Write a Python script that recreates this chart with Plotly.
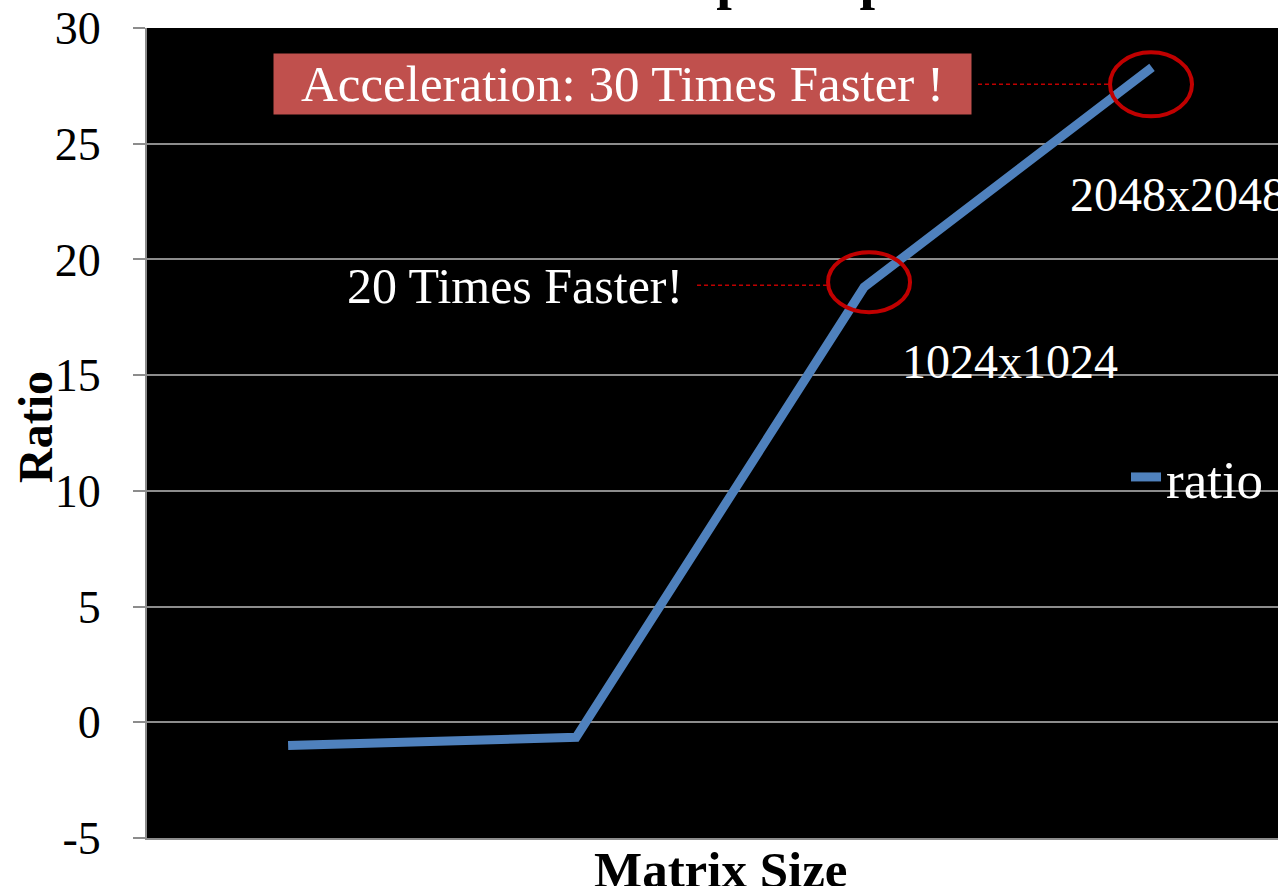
import plotly.graph_objects as go

# Speedup ratio per matrix size
sizes = ["256x256", "512x512", "1024x1024", "2048x2048"]
ratio = [-1.0, -0.65, 18.8, 28.3]
y_ticks = [-5, 0, 5, 10, 15, 20, 25, 30]
y_tick_text = ["-5", "0", "5", "10", "15", "20", "25", "30"]

SERIF = "Liberation Serif"
LINE_BLUE = "#4F81BD"
MARK_RED = "#C00000"
BOX_RED = "#C0504D"
GRID = "#8C8C8C"

fig = go.Figure()
fig.add_trace(go.Scatter(
    x=sizes, y=ratio, mode="lines", name="ratio",
    line=dict(color=LINE_BLUE, width=9),
    hoverinfo="x+y",
))

# plot area geometry in pixels
L, R, T, B = 147, 0, 28, 48
W, H = 1278, 886
pw, ph = W - L - R, H - T - B


def px_x(x):
    return (x - L) / pw


def px_y(y):
    return (H - B - y) / ph


annotations = [
    # category labels next to the two largest sizes
    dict(x=sizes[2], y=ratio[2], xref="x", yref="y", text=sizes[2],
         showarrow=False, xshift=146, yshift=-74,
         font=dict(family=SERIF, size=48, color="white")),
    dict(x=sizes[3], y=ratio[3], xref="x", yref="y", text=sizes[3],
         showarrow=False, xanchor="left", xshift=-84, yshift=-127,
         font=dict(family=SERIF, size=48, color="white")),
    # callouts
    dict(x=sizes[2], y=ratio[2], xref="x", yref="y", text="20 Times Faster!",
         showarrow=False, xanchor="right", xshift=-179, yshift=1,
         font=dict(family=SERIF, size=50, color="white")),
    dict(x=sizes[3], y=ratio[3], xref="x", yref="y",
         text="Acceleration: 30 Times Faster !",
         showarrow=False, xanchor="right", yanchor="middle",
         xshift=-180, yshift=-17, width=697, height=60, borderpad=0,
         bgcolor=BOX_RED, align="center", valign="middle",
         font=dict(family=SERIF, size=51, color="white")),
    # chart and axis titles
    dict(x=px_x(722), y=px_y(12), xref="paper", yref="paper",
         text="<b>GPU Speedup</b>",
         showarrow=False, xanchor="center", yanchor="bottom",
         font=dict(family=SERIF, size=56, color="black")),
    dict(x=px_x(720), y=px_y(838), xref="paper", yref="paper",
         text="<b>Matrix Size</b>", yshift=-2,
         showarrow=False, xanchor="center", yanchor="top",
         font=dict(family=SERIF, size=51, color="black")),
    dict(x=px_x(35), y=px_y(427), xref="paper", yref="paper",
         text="<b>Ratio</b>",
         showarrow=False, textangle=-90, xanchor="center", yanchor="middle",
         font=dict(family=SERIF, size=48, color="black")),
]

shapes = [
    # ellipses around the highlighted points
    dict(type="circle", xref="x", yref="y", xsizemode="pixel", ysizemode="pixel",
         xanchor=sizes[2], yanchor=ratio[2],
         x0=5 - 41, x1=5 + 41, y0=5 - 30, y1=5 + 30,
         line=dict(color=MARK_RED, width=4)),
    dict(type="circle", xref="x", yref="y", xsizemode="pixel", ysizemode="pixel",
         xanchor=sizes[3], yanchor=ratio[3],
         x0=-1 - 41, x1=-1 + 41, y0=-17 - 32, y1=-17 + 32,
         line=dict(color=MARK_RED, width=4)),
    # dashed leaders from the callouts to the ellipses
    dict(type="line", xref="x", yref="y", xsizemode="pixel", ysizemode="pixel",
         xanchor=sizes[2], yanchor=ratio[2],
         x0=-167, x1=-34, y0=2, y1=2,
         line=dict(color=MARK_RED, width=1.5, dash="4px,3px")),
    dict(type="line", xref="x", yref="y", xsizemode="pixel", ysizemode="pixel",
         xanchor=sizes[3], yanchor=ratio[3],
         x0=-174, x1=-40, y0=-17, y1=-17,
         line=dict(color=MARK_RED, width=1.5, dash="4px,3px")),
]

fig.update_layout(
    width=W, height=H,
    margin=dict(l=L, r=R, t=T, b=B, pad=0),
    paper_bgcolor="white", plot_bgcolor="black",
    font=dict(family=SERIF, color="black"),
    showlegend=True,
    legend=dict(x=px_x(1126), y=px_y(477),
                xanchor="left", yanchor="middle",
                bgcolor="rgba(0,0,0,0)", borderwidth=0,
                font=dict(family=SERIF, size=53, color="white")),
    xaxis=dict(type="category", range=[-0.49, 3.4375],
               showticklabels=False, ticks="", showgrid=False,
               showline=True, linecolor=GRID, linewidth=2, zeroline=False),
    yaxis=dict(range=[-5, 30], tickvals=y_ticks, ticktext=y_tick_text,
               showgrid=True, gridcolor=GRID, gridwidth=1.5, zeroline=False,
               showline=True, linecolor=GRID, linewidth=2,
               ticks="outside", ticklen=12, tickcolor=GRID, tickwidth=2,
               tickfont=dict(family=SERIF, size=46, color="black"),
               ticklabelstandoff=23),
    annotations=annotations,
    shapes=shapes,
)

fig.write_html("out.html")
